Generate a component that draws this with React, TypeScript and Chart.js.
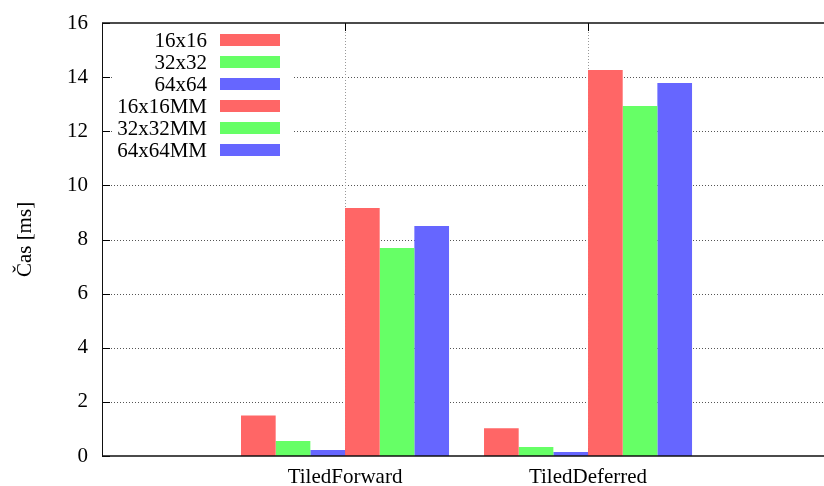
import React, { useEffect, useRef } from "react";
import { Chart, registerables } from "chart.js";

Chart.register(...registerables);

const categories = ["TiledForward", "TiledDeferred"];
const seriesNames = ["16x16", "32x32", "64x64", "16x16MM", "32x32MM", "64x64MM"];
const s16 = [1.5, 1.03];
const s32 = [0.55, 0.33];
const s64 = [0.22, 0.15];
const s16MM = [9.16, 14.26];
const s32MM = [7.69, 12.93];
const s64MM = [8.5, 13.78];
const seriesValues = [s16, s32, s64, s16MM, s32MM, s64MM];
const seriesColors = ["#ff6666", "#66ff66", "#6666ff", "#ff6666", "#66ff66", "#6666ff"];
const yMin = 0;
const yMax = 16;
const yStep = 2;
const xMin = -1;
const xMax = 1.971;
const yTitle = "Čas [ms]";

const FONT = "'Liberation Serif', serif";
const FSIZE = 21;

const framePlugin = {
  id: "frame",
  beforeDatasetsDraw(chart: any) {
    const { ctx, chartArea } = chart;
    const { left, right, top, bottom } = chartArea;
    const xs = chart.scales.x;
    const ys = chart.scales.y;
    ctx.save();
    ctx.lineWidth = 1;
    ctx.setLineDash([1, 2]);
    ctx.strokeStyle = "#555";
    for (let v = yMin + yStep; v < yMax; v += yStep) {
      const y = Math.round(ys.getPixelForValue(v)) + 0.5;
      ctx.beginPath();
      ctx.moveTo(left, y);
      ctx.lineTo(right, y);
      ctx.stroke();
    }
    ctx.strokeStyle = "#999";
    categories.forEach((_, i) => {
      const x = Math.round(xs.getPixelForValue(i)) + 0.5;
      ctx.beginPath();
      ctx.moveTo(x, top);
      ctx.lineTo(x, bottom);
      ctx.stroke();
    });
    ctx.setLineDash([]);
    ctx.strokeStyle = "#000";
    for (let v = yMin; v <= yMax; v += yStep) {
      const y = Math.round(ys.getPixelForValue(v)) + 0.5;
      ctx.beginPath();
      ctx.moveTo(left, y);
      ctx.lineTo(left + 8, y);
      ctx.stroke();
    }
    categories.forEach((_, i) => {
      const x = Math.round(xs.getPixelForValue(i)) + 0.5;
      ctx.beginPath();
      ctx.moveTo(x, top);
      ctx.lineTo(x, top + 8);
      ctx.moveTo(x, bottom);
      ctx.lineTo(x, bottom - 8);
      ctx.stroke();
    });
    ctx.restore();
  },
  afterDatasetsDraw(chart: any) {
    const { ctx, chartArea } = chart;
    const { left, right, top, bottom } = chartArea;
    ctx.save();
    ctx.fillStyle = "#fff";
    ctx.fillRect(left + 11, top + 6, 180, 132);
    ctx.font = FSIZE + "px " + FONT;
    ctx.textAlign = "right";
    ctx.textBaseline = "middle";
    seriesNames.forEach((name, i) => {
      const cy = top + 17 + i * 22;
      ctx.fillStyle = "#000";
      ctx.fillText(name, left + 105, cy + 1);
      ctx.fillStyle = seriesColors[i];
      ctx.fillRect(left + 118, cy - 6, 60, 12);
    });
    ctx.strokeStyle = "#111";
    ctx.lineWidth = 1.5;
    ctx.beginPath();
    ctx.moveTo(left, top);
    ctx.lineTo(right + 2, top);
    ctx.moveTo(left, bottom);
    ctx.lineTo(right + 2, bottom);
    ctx.stroke();
    ctx.lineWidth = 1;
    ctx.beginPath();
    ctx.moveTo(left + 0.5, top);
    ctx.lineTo(left + 0.5, bottom);
    ctx.stroke();
    ctx.restore();
  },
};

export default function App() {
  const ref = useRef<HTMLCanvasElement>(null);
  useEffect(() => {
    if (!ref.current) return;
    const chart = new Chart(ref.current, {
      type: "bar",
      data: {
        datasets: seriesNames.map((name, si) => ({
          label: name,
          data: categories.map((_, i) => ({ x: i, y: seriesValues[si][i] })),
          backgroundColor: seriesColors[si],
          borderWidth: 0,
          categoryPercentage: 0.856,
          barPercentage: 1,
        })),
      },
      options: {
        animation: false,
        responsive: false,
        devicePixelRatio: 1,
        layout: { padding: { top: 23, right: 0, bottom: 0, left: 0 } },
        plugins: { legend: { display: false }, tooltip: { enabled: false } },
        scales: {
          x: {
            type: "linear",
            min: xMin,
            max: xMax,
            offset: false,
            bounds: "data",
            grid: { display: false, drawTicks: false, offset: false },
            border: { display: false },
            afterBuildTicks: (scale: any) => {
              scale.ticks = categories.map((_, i) => ({ value: i }));
            },
            afterFit: (scale: any) => {
              scale.height = 30;
              scale.paddingLeft = 0;
              scale.paddingRight = 0;
            },
            ticks: {
              autoSkip: false,
              maxRotation: 0,
              padding: 9,
              color: "#000",
              font: { family: FONT, size: FSIZE },
              callback: (v: any) => categories[Math.round(Number(v))] ?? "",
            },
          },
          y: {
            type: "linear",
            min: yMin,
            max: yMax,
            grid: { display: false, drawTicks: false },
            border: { display: false },
            afterFit: (scale: any) => {
              scale.width = 102;
              scale.paddingTop = 0;
              scale.paddingBottom = 0;
            },
            ticks: {
              stepSize: yStep,
              padding: 14,
              color: "#000",
              font: { family: FONT, size: FSIZE },
            },
            title: {
              display: true,
              text: yTitle,
              color: "#000",
              font: { family: FONT, size: FSIZE },
              padding: { top: 13, bottom: 0 },
            },
          },
        },
      },
      plugins: [framePlugin],
    });
    return () => chart.destroy();
  }, []);
  return (
    <div style={{ position: "fixed", left: 0, top: 0, width: 824, height: 486, background: "#fff" }}>
      <canvas ref={ref} width={824} height={486} />
    </div>
  );
}
